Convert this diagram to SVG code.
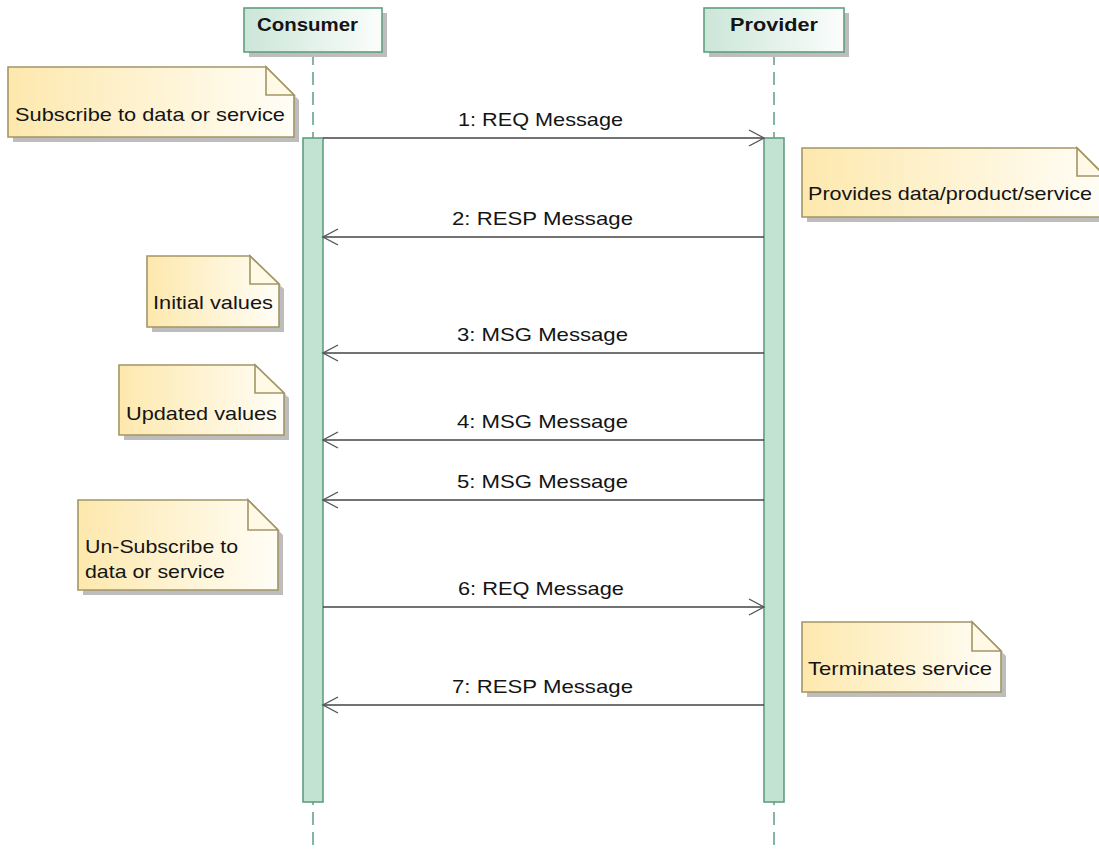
<svg xmlns="http://www.w3.org/2000/svg" width="1099" height="852" viewBox="0 0 1099 852">
<defs>
<linearGradient id="gNote" x1="0" y1="0" x2="1" y2="0">
<stop offset="0" stop-color="#fde8ad"/>
<stop offset="0.5" stop-color="#fef3d2"/>
<stop offset="1" stop-color="#fffdf6"/>
</linearGradient>
<linearGradient id="gHead" x1="0" y1="0" x2="1" y2="0">
<stop offset="0" stop-color="#cbe6d8"/>
<stop offset="1" stop-color="#fbfdfc"/>
</linearGradient>
<marker id="open" markerUnits="userSpaceOnUse" markerWidth="20" markerHeight="20" viewBox="-17 -10 20 20" refX="0" refY="0" orient="auto">
<path d="M -15 -8 L 0 0 L -15 8" fill="none" stroke="#555" stroke-width="1.4"/>
</marker>
<style>
.head{fill:url(#gHead);stroke:#5f9f80;stroke-width:1.6}
.shadow{fill:#bdbdbd;stroke:none}
.htxt{font-family:"Liberation Sans",Arial,sans-serif;font-weight:bold;font-size:19px;fill:#141414}
.life{stroke:#5f9f80;stroke-width:1.5;stroke-dasharray:13 7;fill:none}
.act{fill:#c2e2d2;stroke:#5f9f80;stroke-width:1.6}
.note{fill:url(#gNote);stroke:#a39565;stroke-width:1.6}
.fold{fill:#fff9e6;stroke:#a39565;stroke-width:1.6}
.ntxt{font-family:"Liberation Sans",Arial,sans-serif;font-size:19px;fill:#141414}
.msg{stroke:#444;stroke-width:1.4;fill:none;marker-end:url(#open)}
.mtxt{font-family:"Liberation Sans",Arial,sans-serif;font-size:19px;fill:#141414}
</style>
</defs>
<rect width="1099" height="852" fill="#ffffff"/>

<g id="consumer">
<line class="life" x1="313" y1="52" x2="313" y2="852"/>
<rect class="shadow" x="249" y="13" width="138" height="44"/>
<rect class="head" x="244" y="8" width="138" height="44"/>
<text class="htxt" x="257" y="31" textLength="101" lengthAdjust="spacingAndGlyphs">Consumer</text>
<rect class="act" x="303" y="138" width="20" height="664"/>
</g>

<g id="provider">
<line class="life" x1="774" y1="52" x2="774" y2="852"/>
<rect class="shadow" x="709" y="13" width="140" height="44"/>
<rect class="head" x="704" y="8" width="140" height="44"/>
<text class="htxt" x="730" y="31" textLength="88" lengthAdjust="spacingAndGlyphs">Provider</text>
<rect class="act" x="764" y="138" width="20" height="664"/>
</g>

<g id="note-subscribe">
<path class="shadow" d="M13 72 H271 L299 100 V142 H13 Z"/>
<path class="note" d="M8 67 H266 L294 95 V137 H8 Z"/>
<path class="fold" d="M266 67 V95 H294 Z"/>
<text class="ntxt" x="15" y="121" textLength="270" lengthAdjust="spacingAndGlyphs">Subscribe to data or service</text>
</g>

<g id="note-provides">
<path class="shadow" d="M807 153 H1082 L1110 181 V222 H807 Z"/>
<path class="note" d="M802 148 H1077 L1105 176 V217 H802 Z"/>
<path class="fold" d="M1077 148 V176 H1105 Z"/>
<text class="ntxt" x="808" y="200" textLength="284" lengthAdjust="spacingAndGlyphs">Provides data/product/service</text>
</g>

<g id="note-initial">
<path class="shadow" d="M152 261 H255 L284 289 V332 H152 Z"/>
<path class="note" d="M147 256 H250 L279 284 V327 H147 Z"/>
<path class="fold" d="M250 256 V284 H279 Z"/>
<text class="ntxt" x="153" y="309" textLength="120" lengthAdjust="spacingAndGlyphs">Initial values</text>
</g>

<g id="note-updated">
<path class="shadow" d="M124 370 H260 L289 398 V440 H124 Z"/>
<path class="note" d="M119 365 H255 L284 393 V435 H119 Z"/>
<path class="fold" d="M255 365 V393 H284 Z"/>
<text class="ntxt" x="126" y="420" textLength="151" lengthAdjust="spacingAndGlyphs">Updated values</text>
</g>

<g id="note-unsubscribe">
<path class="shadow" d="M83 505 H253 L283 535 V595 H83 Z"/>
<path class="note" d="M78 500 H248 L278 530 V590 H78 Z"/>
<path class="fold" d="M248 500 V530 H278 Z"/>
<text class="ntxt" x="85" y="553" textLength="153" lengthAdjust="spacingAndGlyphs">Un-Subscribe to</text>
<text class="ntxt" x="85" y="578" textLength="140" lengthAdjust="spacingAndGlyphs">data or service</text>
</g>

<g id="note-terminates">
<path class="shadow" d="M807 627 H977 L1006 656 V697 H807 Z"/>
<path class="note" d="M802 622 H972 L1001 651 V692 H802 Z"/>
<path class="fold" d="M972 622 V651 H1001 Z"/>
<text class="ntxt" x="808" y="675" textLength="184" lengthAdjust="spacingAndGlyphs">Terminates service</text>
</g>

<g id="connectors">
<line class="msg" x1="323" y1="138" x2="764" y2="138"/>
<text class="mtxt" x="458" y="126" textLength="165" lengthAdjust="spacingAndGlyphs">1: REQ Message</text>
<line class="msg" x1="764" y1="237" x2="323" y2="237"/>
<text class="mtxt" x="452" y="225" textLength="181" lengthAdjust="spacingAndGlyphs">2: RESP Message</text>
<line class="msg" x1="764" y1="353" x2="323" y2="353"/>
<text class="mtxt" x="457" y="341" textLength="171" lengthAdjust="spacingAndGlyphs">3: MSG Message</text>
<line class="msg" x1="764" y1="440" x2="323" y2="440"/>
<text class="mtxt" x="457" y="428" textLength="171" lengthAdjust="spacingAndGlyphs">4: MSG Message</text>
<line class="msg" x1="764" y1="500" x2="323" y2="500"/>
<text class="mtxt" x="457" y="488" textLength="171" lengthAdjust="spacingAndGlyphs">5: MSG Message</text>
<line class="msg" x1="323" y1="607" x2="764" y2="607"/>
<text class="mtxt" x="458" y="595" textLength="166" lengthAdjust="spacingAndGlyphs">6: REQ Message</text>
<line class="msg" x1="764" y1="705" x2="323" y2="705"/>
<text class="mtxt" x="452" y="693" textLength="181" lengthAdjust="spacingAndGlyphs">7: RESP Message</text>
</g>
</svg>
